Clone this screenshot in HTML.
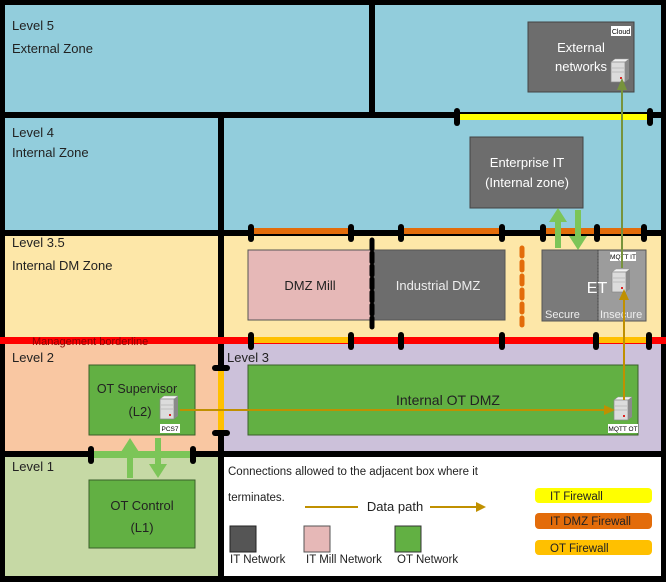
<!DOCTYPE html>
<html><head><meta charset="utf-8"><style>
body{margin:0;background:#fff}
svg{display:block;font-family:"Liberation Sans",sans-serif}
</style></head><body>
<svg width="666" height="582" viewBox="0 0 666 582" xmlns="http://www.w3.org/2000/svg">
<defs>
<g id="srv">
<polygon points="0,0 4,-3 18,-3 14,0" fill="#f2f2f2" stroke="#999" stroke-width="0.5"/>
<rect x="0" y="0" width="14" height="20" fill="#dcdcdc" stroke="#888" stroke-width="0.7"/>
<polygon points="14,0 18,-3 18,17 14,20" fill="#8a8a8a"/>
<line x1="1" y1="6" x2="13" y2="6" stroke="#aaa" stroke-width="0.6"/>
<line x1="1" y1="10" x2="13" y2="10" stroke="#aaa" stroke-width="0.6"/>
<rect x="9" y="15" width="2" height="2" fill="#d22"/>
</g>
</defs>
<rect x="0" y="0" width="666" height="582" fill="#000"/>
<rect x="5" y="5" width="656" height="110" fill="#92cddc"/>
<rect x="5" y="118" width="656" height="114" fill="#92cddc"/>
<rect x="5" y="235" width="656" height="106" fill="#fde7a8"/>
<rect x="5" y="343" width="214" height="110" fill="#f9c7a2"/>
<rect x="223" y="343" width="438" height="110" fill="#ccc1da"/>
<rect x="5" y="457" width="214" height="119" fill="#c6d9a5"/>
<rect x="224" y="457" width="437" height="119" fill="#fff"/>
<rect x="369" y="0" width="6" height="115" fill="#000"/>
<rect x="0" y="112" width="666" height="6" fill="#000"/>
<rect x="218" y="115" width="6" height="467" fill="#000"/>
<rect x="0" y="230" width="666" height="6" fill="#000"/>
<rect x="0" y="451" width="666" height="6" fill="#000"/>
<rect x="0" y="337" width="666" height="7" fill="#ff0000"/>
<text x="32" y="345" font-size="11" fill="#8b0000">Management borderline</text>
<rect x="457" y="114" width="193" height="6" fill="#ffff00"/>
<rect x="251" y="228" width="100" height="6" fill="#e36c0a"/>
<rect x="401" y="228" width="101" height="6" fill="#e36c0a"/>
<rect x="543" y="228" width="101" height="6" fill="#e36c0a"/>
<rect x="251" y="337" width="100" height="6" fill="#ffc000"/>
<rect x="596" y="337" width="53" height="6" fill="#ffc000"/>
<rect x="218" y="367" width="6" height="66" fill="#ffc000"/>
<rect x="93" y="451" width="100" height="7" fill="#7cc558"/>
<g fill="#000">
<rect x="454" y="108" width="6" height="18" rx="3"/><rect x="647" y="108" width="6" height="18" rx="3"/>
<rect x="248" y="224" width="6" height="18" rx="3"/><rect x="348" y="224" width="6" height="18" rx="3"/>
<rect x="398" y="224" width="6" height="18" rx="3"/><rect x="499" y="224" width="6" height="18" rx="3"/>
<rect x="540" y="224" width="6" height="18" rx="3"/><rect x="594" y="224" width="6" height="18" rx="3"/>
<rect x="641" y="224" width="6" height="18" rx="3"/>
<rect x="248" y="332" width="6" height="18" rx="3"/><rect x="348" y="332" width="6" height="18" rx="3"/>
<rect x="398" y="332" width="6" height="18" rx="3"/><rect x="499" y="332" width="6" height="18" rx="3"/>
<rect x="593" y="332" width="6" height="18" rx="3"/><rect x="646" y="332" width="6" height="18" rx="3"/>
<rect x="88" y="446" width="6" height="18" rx="3"/><rect x="190" y="446" width="6" height="18" rx="3"/>
<rect x="212" y="365" width="18" height="6" rx="3"/><rect x="212" y="430" width="18" height="6" rx="3"/>
</g>
<g font-size="13" fill="#222">
<text x="12" y="30">Level 5</text><text x="12" y="53">External Zone</text>
<text x="12" y="137">Level 4</text><text x="12" y="157">Internal Zone</text>
<text x="12" y="247">Level 3.5</text><text x="12" y="270">Internal DM Zone</text>
<text x="12" y="362">Level 2</text>
<text x="227" y="362">Level 3</text>
<text x="12" y="471">Level 1</text>
</g>
<rect x="528" y="22" width="106" height="70" fill="#6d6d6d" stroke="#444" stroke-width="1"/>
<rect x="611" y="26" width="20" height="10" fill="#fff"/>
<text x="621" y="34" font-size="7" text-anchor="middle" fill="#000">Cloud</text>
<text x="581" y="52" font-size="13" text-anchor="middle" fill="#fff">External</text>
<text x="581" y="71" font-size="13" text-anchor="middle" fill="#fff">networks</text>
<use href="#srv" x="611" y="62"/>
<rect x="470" y="137" width="113" height="71" fill="#6d6d6d" stroke="#444"/>
<text x="527" y="167" font-size="13" text-anchor="middle" fill="#fff">Enterprise IT</text>
<text x="527" y="187" font-size="13" text-anchor="middle" fill="#fff">(Internal zone)</text>
<rect x="248" y="250" width="124" height="70" fill="#e6b8b7" stroke="#555"/>
<rect x="372" y="250" width="133" height="70" fill="#6d6d6d" stroke="#555"/>
<line x1="372" y1="240" x2="372" y2="330" stroke="#000" stroke-width="5" stroke-dasharray="9,4" stroke-linecap="round"/>
<text x="310" y="290" font-size="13" text-anchor="middle" fill="#222">DMZ Mill</text>
<text x="438" y="290" font-size="13" text-anchor="middle" fill="#eee">Industrial DMZ</text>
<line x1="522" y1="248" x2="522" y2="325" stroke="#e36c0a" stroke-width="5" stroke-dasharray="8,6" stroke-linecap="round"/>
<rect x="542" y="250" width="56" height="71" fill="#7a7a7a" stroke="#555"/>
<rect x="598" y="250" width="48" height="71" fill="#9c9c9c" stroke="#555"/>
<line x1="598" y1="250" x2="598" y2="321" stroke="#444" stroke-dasharray="1,2"/>
<text x="597" y="293" font-size="16" text-anchor="middle" fill="#fff">ET</text>
<text x="545" y="318" font-size="11" fill="#eee">Secure</text>
<text x="600" y="318" font-size="11" fill="#eee">Insecure</text>
<rect x="610" y="252" width="26" height="9" fill="#fff"/>
<text x="623" y="259" font-size="6.5" text-anchor="middle" fill="#000">MQTT IT</text>
<use href="#srv" x="612" y="272"/>
<rect x="89" y="365" width="106" height="70" fill="#62b043" stroke="#3a5f2a"/>
<text x="137" y="393" font-size="12.5" text-anchor="middle" fill="#222">OT Supervisor</text>
<text x="140" y="416" font-size="13" text-anchor="middle" fill="#222">(L2)</text>
<use href="#srv" x="160" y="399"/>
<rect x="160" y="424" width="20" height="9" fill="#fff"/>
<text x="170" y="431" font-size="6.5" text-anchor="middle">PCS7</text>
<rect x="248" y="365" width="390" height="70" fill="#62b043" stroke="#3a5f2a"/>
<text x="448" y="405" font-size="14" text-anchor="middle" fill="#222">Internal OT DMZ</text>
<use href="#srv" x="614" y="400"/>
<rect x="608" y="424" width="30" height="9" fill="#fff"/>
<text x="623" y="431" font-size="6.5" text-anchor="middle">MQTT OT</text>
<rect x="89" y="480" width="106" height="68" fill="#62b043" stroke="#3a5f2a"/>
<text x="142" y="510" font-size="13" text-anchor="middle" fill="#222">OT Control</text>
<text x="142" y="532" font-size="13" text-anchor="middle" fill="#222">(L1)</text>
<line x1="622" y1="268" x2="622" y2="90" stroke="#77933c" stroke-width="2"/>
<polygon points="617,90 622,78 627,90" fill="#77933c"/>
<line x1="624" y1="400" x2="624" y2="298" stroke="#c09000" stroke-width="2"/>
<polygon points="619,300 624,289 629,300" fill="#c09000"/>
<line x1="180" y1="410" x2="605" y2="410" stroke="#c09000" stroke-width="2"/>
<polygon points="604,405 615,410 604,415" fill="#c09000"/>
<g fill="#7cc558">
<polygon points="555,248 555,222 549,222 558,208 567,222 561,222 561,248"/>
<polygon points="575,210 575,236 569,236 578,250 587,236 581,236 581,210"/>
<polygon points="127,478 127,452 121,452 130,438 139,452 133,452 133,478"/>
<polygon points="155,438 155,464 149,464 158,478 167,464 161,464 161,438"/>
</g>
<text x="228" y="475" font-size="11.5" fill="#222">Connections allowed to the adjacent box where it</text>
<text x="228" y="501" font-size="11.5" fill="#222">terminates.</text>
<line x1="305" y1="507" x2="358" y2="507" stroke="#c09000" stroke-width="2"/>
<text x="395" y="511" font-size="13" text-anchor="middle" fill="#222">Data path</text>
<line x1="430" y1="507" x2="478" y2="507" stroke="#c09000" stroke-width="2"/>
<polygon points="476,502 486,507 476,512" fill="#c09000"/>
<rect x="230" y="526" width="26" height="26" fill="#555" stroke="#222"/>
<rect x="304" y="526" width="26" height="26" fill="#e6b8b7" stroke="#555"/>
<rect x="395" y="526" width="26" height="26" fill="#62b043" stroke="#333"/>
<g font-size="11.5" fill="#222">
<text x="230" y="563">IT Network</text>
<text x="306" y="563">IT Mill Network</text>
<text x="397" y="563">OT Network</text>
</g>
<rect x="535" y="488" width="117" height="15" rx="4" fill="#ffff00"/>
<rect x="535" y="513" width="117" height="16" rx="4" fill="#e36c0a"/>
<rect x="535" y="540" width="117" height="15" rx="4" fill="#ffc000"/>
<g font-size="11.5" fill="#222">
<text x="550" y="500">IT Firewall</text>
<text x="550" y="525">IT DMZ Firewall</text>
<text x="550" y="552">OT Firewall</text>
</g>
</svg>
</body></html>
